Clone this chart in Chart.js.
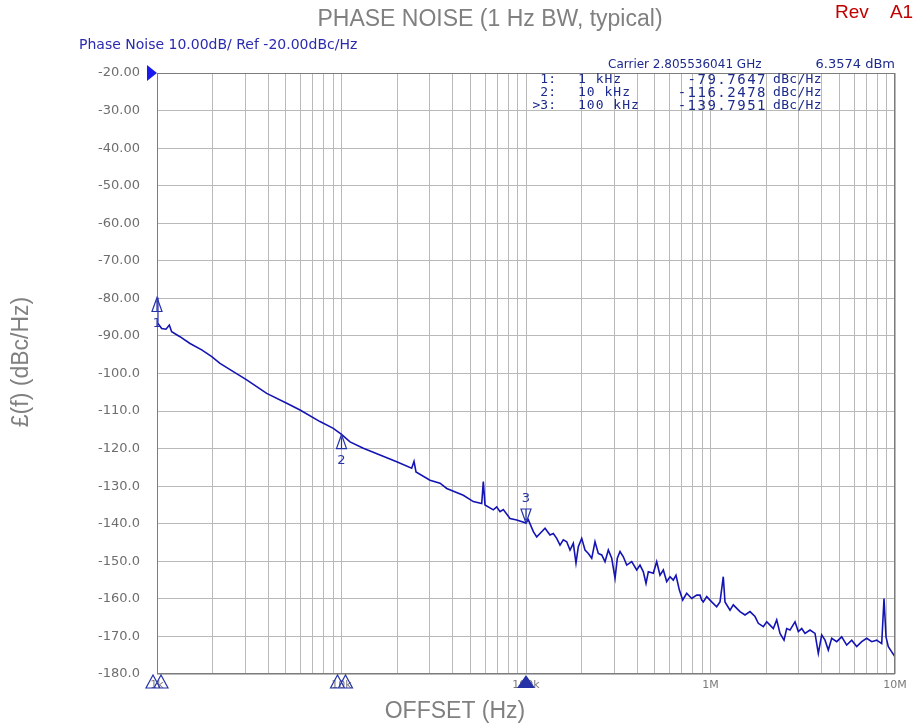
<!DOCTYPE html>
<html>
<head>
<meta charset="utf-8">
<script src="https://cdn.jsdelivr.net/npm/chart.js@4.4.1/dist/chart.umd.min.js"></script>
<style>
  html, body { margin: 0; padding: 0; background: #fff; }
  canvas { display: block; }
</style>
</head>
<body>
<canvas id="pn" width="913" height="726"></canvas>
<script>
// trace: offset (Hz) and L(f) (dBc/Hz)
const offsetHz = [
    1000, 1009, 1060, 1119, 1166, 1201, 1332, 1510, 1747, 1980,
    2195, 2592, 3063, 3931, 5047, 5960, 7646, 9028, 10000, 11120,
    13130, 16170, 19920, 24010, 24720, 25340, 30180, 34190, 37180, 45730,
    51810, 57540, 58700, 59960, 66500, 69380, 72300, 75340, 81900, 89050,
    100000, 102900, 109600, 114300, 119100, 126800, 134900, 140600, 146700, 152900,
    159300, 166200, 173200, 180500, 186600, 192100, 200400, 208900, 217700, 227100,
    236600, 246600, 257300, 268100, 279400, 291500, 303800, 312600, 323300, 336900,
    351500, 374100, 398100, 414900, 432400, 447200, 460300, 489800, 510900, 532500,
    554900, 578900, 603300, 628600, 650100, 677500, 706800, 743000, 791000, 841900,
    877300, 896100, 914200, 953800, 1015000, 1080000, 1126000, 1173000, 1198000, 1276000,
    1329000, 1445000, 1538000, 1637000, 1743000, 1816000, 1933000, 2017000, 2102000, 2190000,
    2285000, 2381000, 2503000, 2588000, 2697000, 2871000, 2992000, 3122000, 3253000, 3462000,
    3685000, 3840000, 4006000, 4175000, 4350000, 4539000, 4831000, 5142000, 5473000, 5826000,
    6201000, 6600000, 7025000, 7477000, 7959000, 8471000, 8719000, 8939000, 9199000, 9597000,
    10000000
];
const phaseNoise = [
    -79.8, -86.6, -88.0, -88.2, -87.1, -88.9, -90.2, -92.0, -93.7, -95.5,
    -97.3, -99.5, -101.7, -105.3, -107.9, -109.7, -112.8, -114.6, -116.2, -118.2,
    -119.9, -121.7, -123.5, -125.2, -123.4, -126.2, -128.4, -129.2, -130.6, -132.4,
    -134.1, -134.6, -128.8, -135.0, -136.3, -135.5, -136.8, -136.2, -138.6, -139.0,
    -139.8, -138.9, -142.1, -143.5, -142.6, -141.2, -143.0, -142.6, -143.9, -145.7,
    -144.3, -144.8, -147.0, -145.2, -150.5, -146.1, -143.9, -147.0, -147.9, -149.2,
    -144.8, -147.9, -148.3, -150.1, -147.0, -149.2, -154.5, -149.2, -147.4, -148.8,
    -151.0, -150.1, -152.3, -151.0, -152.8, -155.9, -152.8, -153.2, -150.1, -153.7,
    -152.3, -155.4, -154.1, -155.0, -153.7, -157.6, -160.3, -158.5, -159.9, -159.0,
    -159.0, -160.3, -160.8, -159.4, -160.8, -162.1, -160.8, -154.1, -160.8, -163.0,
    -161.6, -163.4, -164.3, -163.4, -164.7, -166.5, -167.4, -166.1, -167.0, -167.9,
    -165.6, -169.2, -171.0, -167.9, -168.3, -166.1, -168.7, -167.9, -169.2, -168.3,
    -169.2, -174.5, -169.6, -171.0, -173.6, -170.5, -171.4, -170.1, -172.3, -171.0,
    -172.7, -171.4, -170.5, -171.4, -171.0, -171.9, -159.9, -170.1, -172.7, -174.1,
    -175.4
];

// marker readouts
const markerHz = [1e3, 1e4, 1e5];
const markerDbc = [-79.7647, -116.2478, -139.7951];
const markerFreqText = ['1 kHz', '10 kHz', '100 kHz'];
const markerNames = ['1:', '2:', '>3:'];

// axes
const decadeTicks = [1e3, 1e4, 1e5, 1e6, 1e7];
const decadeLabels = ['1k', '10k', '100k', '1M', '10M'];
const yMin = -180, yMax = -20, yStep = 10;

// gridlines at 1..9 of every decade
const gridTicks = [];
for (let i = 0; i < decadeTicks.length - 1; i++) {
    for (let m = 1; m <= 9; m++) gridTicks.push(decadeTicks[i] * m);
}
gridTicks.push(decadeTicks[decadeTicks.length - 1]);

const traceColor = '#1414b4';
const markerColor = '#2633a8';

function markerUp(ctx, x, y, num) {
    ctx.beginPath();
    ctx.moveTo(x, y);
    ctx.lineTo(x - 5, y + 14);
    ctx.lineTo(x + 5, y + 14);
    ctx.closePath();
    ctx.moveTo(x, y + 3);
    ctx.lineTo(x, y + 14);
    ctx.stroke();
    ctx.fillText(num, x, y + 26);
}

function markerDown(ctx, x, y, num) {
    ctx.beginPath();
    ctx.moveTo(x, y);
    ctx.lineTo(x - 5, y - 14);
    ctx.lineTo(x + 5, y - 14);
    ctx.closePath();
    ctx.moveTo(x, y - 3);
    ctx.lineTo(x, y - 14);
    ctx.stroke();
    ctx.fillText(num, x, y - 24);
}

const overlay = {
    id: 'overlay',
    afterDraw(chart) {
        const ctx = chart.ctx;
        const { left, right, top, bottom } = chart.chartArea;
        const xs = chart.scales.x;
        const ys = chart.scales.y;
        ctx.save();

        // plot frame
        ctx.strokeStyle = '#7c7c7c';
        ctx.lineWidth = 1;
        ctx.strokeRect(left + 0.5, top + 0.5, right - left - 1, bottom - top - 1);

        // titles
        ctx.fillStyle = '#808080';
        ctx.textAlign = 'center';
        ctx.textBaseline = 'middle';
        ctx.font = '23px "Liberation Sans"';
        ctx.fillText('PHASE NOISE (1 Hz BW, typical)', 490, 20);
        ctx.fillText('OFFSET (Hz)', 455, 712);
        ctx.save();
        ctx.translate(22, 362);
        ctx.rotate(-Math.PI / 2);
        ctx.fillText('£(f) (dBc/Hz)', 0, 0);
        ctx.restore();

        ctx.fillStyle = '#c00000';
        ctx.textAlign = 'left';
        ctx.font = '19px "Liberation Sans"';
        ctx.fillText('Rev    A1', 835, 13);

        // analyzer header
        ctx.fillStyle = '#2b2bb0';
        ctx.font = '14px "DejaVu Sans"';
        ctx.fillText('Phase Noise 10.00dB/ Ref ' + yMax.toFixed(2) + 'dBc/Hz', 79, 45);

        ctx.fillStyle = '#1c2a8c';
        ctx.font = '12px "DejaVu Sans"';
        ctx.fillText('Carrier 2.805536041 GHz', 608, 65);
        ctx.textAlign = 'right';
        ctx.font = '13px "DejaVu Sans"';
        ctx.fillText('6.3574 dBm', 895, 65);

        markerHz.forEach((f, i) => {
            const y = 80 + i * 13;
            ctx.font = '13px "DejaVu Sans Mono"';
            ctx.textAlign = 'right';
            ctx.letterSpacing = '0px';
            ctx.fillText(markerNames[i], 556, y);
            ctx.font = '14px "DejaVu Sans Mono"';
            ctx.letterSpacing = '1.5px';
            ctx.fillText(markerDbc[i].toFixed(4), 767, y);
            ctx.font = '13px "DejaVu Sans Mono"';
            ctx.textAlign = 'left';
            ctx.letterSpacing = '1px';
            ctx.fillText(markerFreqText[i], 578, y);
            ctx.letterSpacing = '0.3px';
            ctx.fillText('dBc/Hz', 773, y);
        });
        ctx.letterSpacing = '0px';

        // reference level arrow
        const yRef = ys.getPixelForValue(yMax);
        ctx.fillStyle = '#1a1aee';
        ctx.beginPath();
        ctx.moveTo(left - 10, yRef - 8);
        ctx.lineTo(left, yRef);
        ctx.lineTo(left - 10, yRef + 8);
        ctx.closePath();
        ctx.fill();

        // markers on the trace
        ctx.strokeStyle = markerColor;
        ctx.fillStyle = markerColor;
        ctx.lineWidth = 1.2;
        ctx.textAlign = 'center';
        ctx.font = '13px "DejaVu Sans"';
        markerHz.forEach((f, i) => {
            const x = xs.getPixelForValue(f);
            const y = ys.getPixelForValue(markerDbc[i]);
            if (i < 2) markerUp(ctx, x, y, String(i + 1));
            else markerDown(ctx, x, y, String(i + 1));
        });

        // marker flags on the x axis
        markerHz.forEach((f, i) => {
            const x = xs.getPixelForValue(f);
            ctx.beginPath();
            if (i < 2) {
                [-4, 4].forEach(dx => {
                    ctx.moveTo(x + dx, bottom + 1);
                    ctx.lineTo(x + dx - 7, bottom + 14);
                    ctx.lineTo(x + dx + 7, bottom + 14);
                    ctx.closePath();
                });
                ctx.stroke();
            } else {
                ctx.moveTo(x, bottom + 1);
                ctx.lineTo(x - 9, bottom + 14);
                ctx.lineTo(x + 9, bottom + 14);
                ctx.closePath();
                ctx.fill();
            }
        });

        ctx.restore();
    }
};

new Chart(document.getElementById('pn'), {
    type: 'line',
    data: {
        datasets: [{
            data: offsetHz.map((f, i) => ({ x: f, y: phaseNoise[i] })),
            borderColor: traceColor,
            borderWidth: 1.6,
            pointRadius: 0,
            tension: 0,
            fill: false
        }]
    },
    options: {
        responsive: false,
        animation: false,
        layout: { padding: { top: 73, right: 18, left: 0, bottom: 0 } },
        plugins: {
            legend: { display: false },
            tooltip: { enabled: false }
        },
        scales: {
            x: {
                type: 'logarithmic',
                min: decadeTicks[0],
                max: decadeTicks[decadeTicks.length - 1],
                afterBuildTicks: s => { s.ticks = gridTicks.map(v => ({ value: v })); },
                afterFit: s => { s.height = 52; },
                grid: { color: '#b9b9b9', drawTicks: false },
                border: { display: false },
                ticks: {
                    autoSkip: false,
                    maxRotation: 0,
                    padding: 5,
                    color: '#7a7a7a',
                    font: { family: 'DejaVu Sans', size: 11 },
                    callback: v => {
                        const i = decadeTicks.indexOf(v);
                        return i >= 0 ? decadeLabels[i] : '';
                    }
                }
            },
            y: {
                min: yMin,
                max: yMax,
                afterFit: s => { s.width = 157; },
                grid: { color: '#b9b9b9', drawTicks: false },
                border: { display: false },
                ticks: {
                    stepSize: yStep,
                    padding: 17,
                    color: '#6e6e6e',
                    font: { family: 'DejaVu Sans', size: 13 },
                    callback: v => v > -100 ? v.toFixed(2) : v.toFixed(1)
                }
            }
        }
    },
    plugins: [overlay]
});
</script>
</body>
</html>
